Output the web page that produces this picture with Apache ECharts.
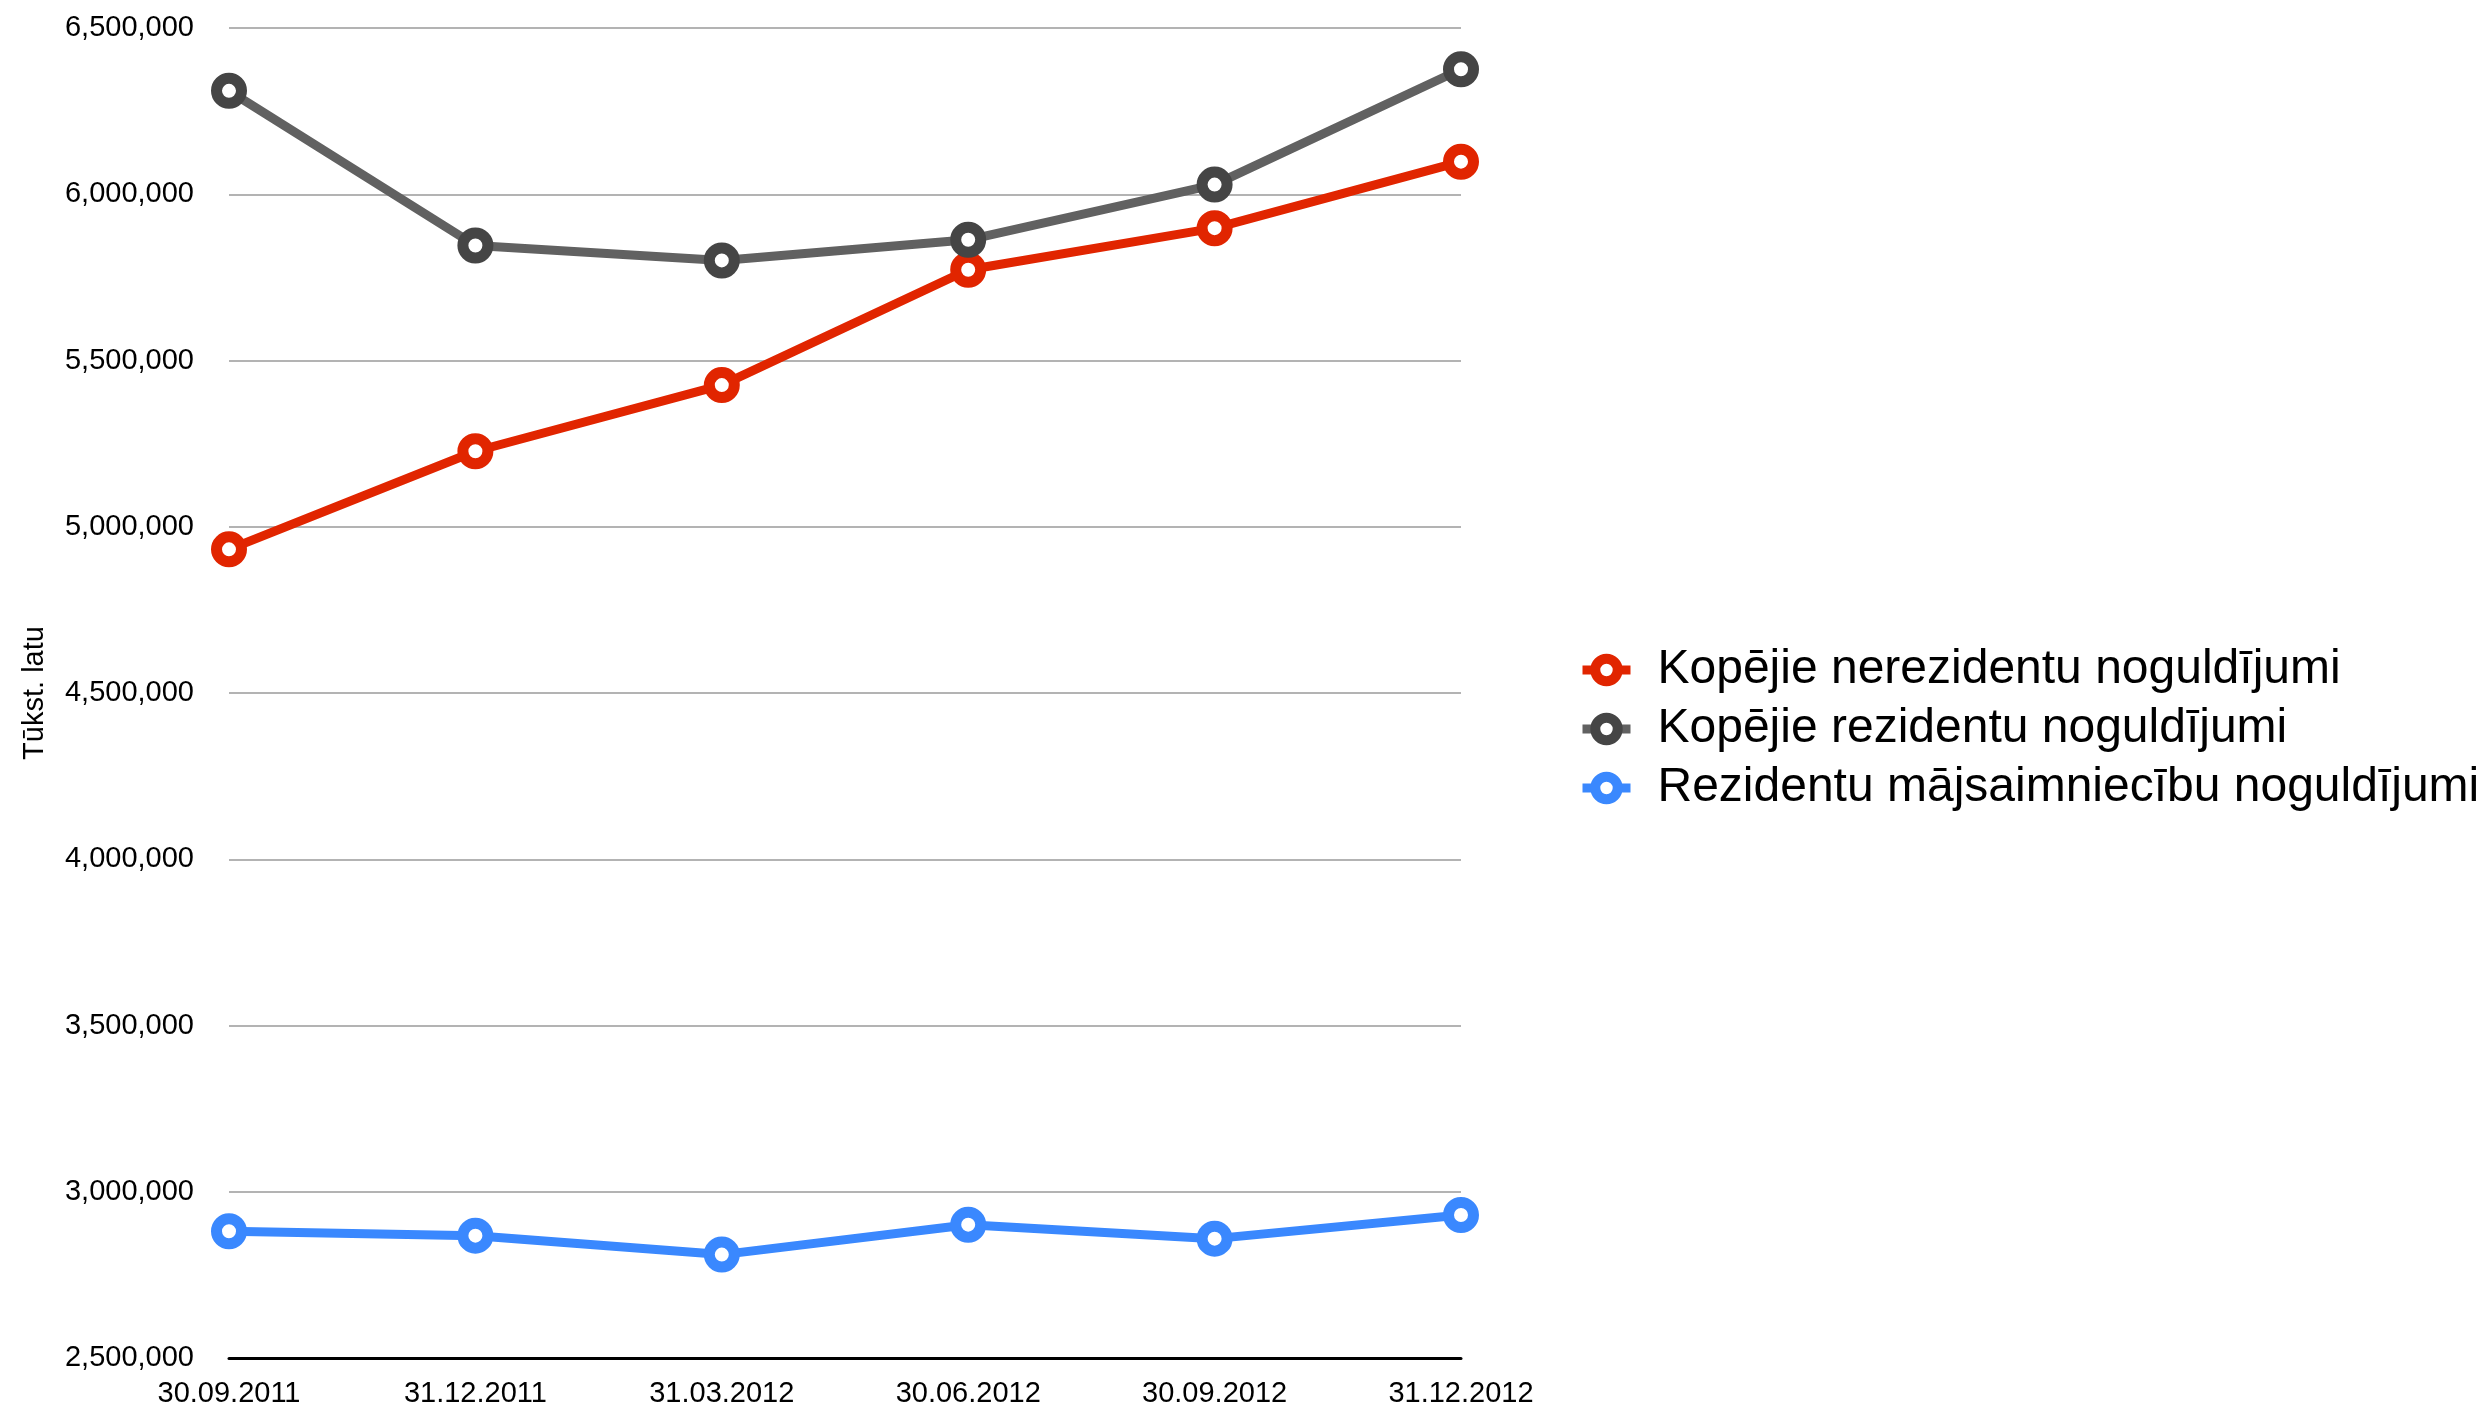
<!DOCTYPE html>
<html>
<head>
<meta charset="utf-8">
<script src="https://cdn.jsdelivr.net/npm/echarts@6/dist/echarts.min.js"></script>
<style>
html,body{margin:0;padding:0;background:#fff;}
#chart{width:2487px;height:1408px;}
</style>
</head>
<body>
<div id="chart"></div>
<script>
const categories = ['30.09.2011', '31.12.2011', '31.03.2012', '30.06.2012', '30.09.2012', '31.12.2012'];
const seriesNames = ['Kopējie nerezidentu noguldījumi', 'Kopējie rezidentu noguldījumi', 'Rezidentu mājsaimniecību noguldījumi'];
const nonResidentTotal = [4932000, 5227000, 5426000, 5773000, 5898000, 6098000];
const residentTotal = [6311000, 5846000, 5801000, 5863000, 6029000, 6376000];
const residentHouseholds = [2881000, 2868000, 2811000, 2901000, 2859000, 2930000];
const yTicks = [2500000, 3000000, 3500000, 4000000, 4500000, 5000000, 5500000, 6000000, 6500000];
const yAxisName = 'Tūkst. latu';

const FONT = "'Liberation Sans', Arial, Helvetica, sans-serif";

function makeSeries(name, data, lineColor, markerColor) {
  return {
    name: name,
    type: 'line',
    data: data,
    symbol: 'circle',
    symbolSize: 25,
    showAllSymbol: true,
    lineStyle: { color: lineColor, width: 9 },
    itemStyle: { color: '#ffffff', borderColor: markerColor, borderWidth: 11 },
    emphasis: { disabled: true },
    animation: false
  };
}

const chart = echarts.init(document.getElementById('chart'), null, { renderer: 'canvas' });
chart.setOption({
  backgroundColor: '#ffffff',
  animation: false,
  grid: { left: 229, right: 1026, top: 28, bottom: 47, containLabel: false },
  legend: {
    orient: 'vertical',
    left: 1573,
    top: 641,
    itemWidth: 48,
    itemHeight: 28,
    itemGap: 11,
    itemStyle: { borderWidth: 10 },
    lineStyle: { width: 9 },
    textStyle: { fontFamily: FONT, fontSize: 48, color: '#000', padding: [0, 0, 0, 22] },
    data: seriesNames
  },
  xAxis: {
    type: 'category',
    data: categories,
    boundaryGap: false,
    axisLine: { lineStyle: { color: '#000', width: 3 } },
    axisTick: { show: false },
    axisLabel: { fontFamily: FONT, fontSize: 29, color: '#000', margin: 21, interval: 0 },
    splitLine: { show: false }
  },
  yAxis: {
    type: 'value',
    min: yTicks[0],
    max: yTicks[yTicks.length - 1],
    interval: yTicks[1] - yTicks[0],
    name: yAxisName,
    nameLocation: 'middle',
    nameRotate: 90,
    nameGap: 180,
    nameTextStyle: { fontFamily: FONT, fontSize: 29, color: '#000' },
    axisLine: { show: false },
    axisTick: { show: false },
    axisLabel: {
      fontFamily: FONT, fontSize: 29, color: '#000', margin: 35,
      formatter: v => v.toLocaleString('en-US')
    },
    splitLine: { lineStyle: { color: '#b3b3b3', width: 2 } }
  },
  series: [
    makeSeries(seriesNames[0], nonResidentTotal, '#e12500', '#e12500'),
    makeSeries(seriesNames[1], residentTotal, '#616161', '#454545'),
    makeSeries(seriesNames[2], residentHouseholds, '#3a88fe', '#3a88fe')
  ]
});
</script>
</body>
</html>
